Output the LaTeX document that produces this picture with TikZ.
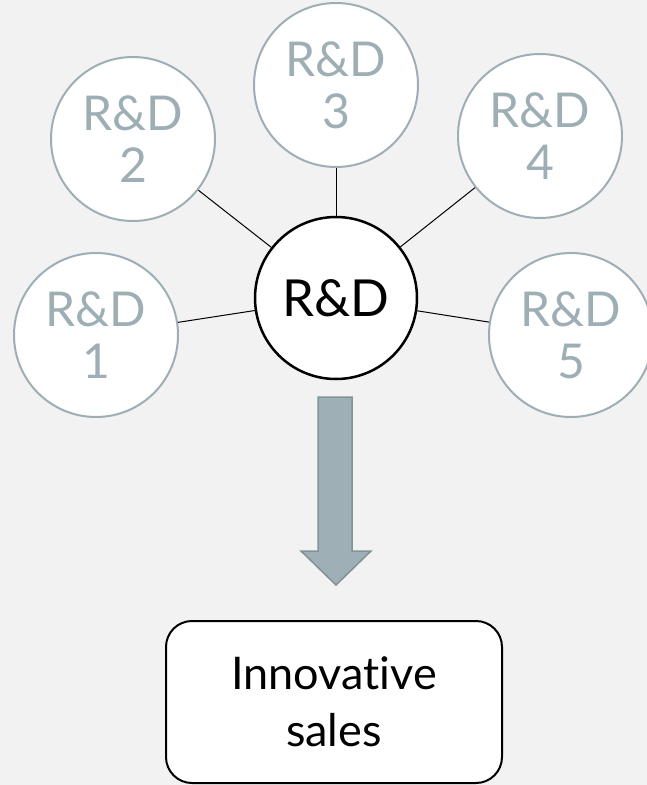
\documentclass[tikz,border=0pt]{standalone}
\usepackage{fontspec}
\setmainfont{Lato}[Ligatures={NoCommon,NoRare,NoContextual}]
\definecolor{bgc}{HTML}{F2F2F2}
\definecolor{rdgray}{HTML}{9DAFB5}
\definecolor{arrfill}{HTML}{9EAFB5}
\definecolor{arrdraw}{HTML}{7F9399}
\begin{document}
\begin{tikzpicture}[x=1pt,y=-1pt,
  sat/.style={circle,draw=rdgray,line width=2pt,fill=white,minimum size=164pt,inner sep=0pt,
    text=rdgray,align=center,font=\fontsize{48}{52}\selectfont},
  hub/.style={circle,draw=black,line width=2.5pt,fill=white,minimum size=162pt,inner sep=0pt,
    font=\fontsize{51}{56}\selectfont},
  outbox/.style={draw=black,line width=2pt,fill=white,rounded corners=26pt,minimum width=336pt,
    minimum height=162pt,align=center,font=\fontsize{45}{57}\selectfont},
  link/.style={draw=black,line width=1pt},
  bigarrow/.style={fill=arrfill,draw=arrdraw,line width=1.5pt,line join=miter}]
\fill[bgc] (0,0) rectangle (647,785);
\useasboundingbox (0,0) rectangle (647,785);
\node[hub] (c) at (336,298) {R\&D};
\node[sat] (r1) at (96,335) {R\&D\\1};
\node[sat] (r2) at (133,139) {R\&D\\2};
\node[sat] (r3) at (336,85) {R\&D\\3};
\node[sat] (r4) at (540,136) {R\&D\\4};
\node[sat] (r5) at (571,335) {R\&D\\5};
\foreach \n in {r1,r2,r3,r4,r5} \draw[link] (c) -- (\n);
\node[outbox] (s) at (334,702) {Innovative\\sales};
\draw[bigarrow] (318,397) -- (352,397) -- (352,551) -- (371,551) -- (336,585) -- (301,551) -- (318,551) -- cycle;
\end{tikzpicture}
\end{document}
